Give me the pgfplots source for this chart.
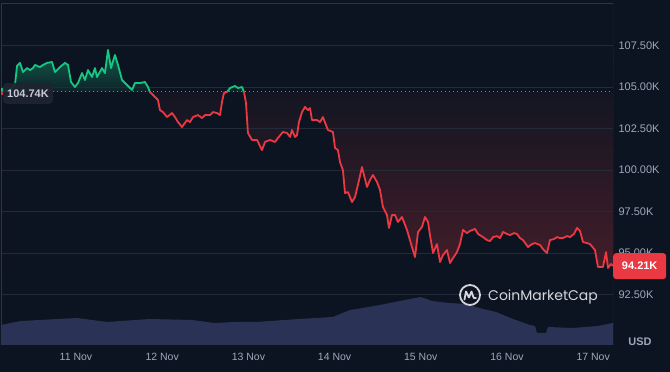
\documentclass[border=0pt]{standalone}
\usepackage{pgfplots}
\pgfplotsset{compat=1.18}
\usepackage{pgfplotstable}
\usetikzlibrary{backgrounds}
\usepackage{fontspec}
\setmainfont{Liberation Sans}
\newfontfamily\wmfont{Poppins}
\definecolor{bg}{HTML}{0D1421}
\definecolor{cmcred}{HTML}{EA3943}
\definecolor{cmcgreen}{HTML}{16C784}
\definecolor{gridc}{HTML}{252A38}
\definecolor{framec}{HTML}{2E3445}
\definecolor{tickc}{HTML}{A1A7BB}
\definecolor{volc}{HTML}{2A3355}
\definecolor{wmc}{HTML}{D3D6DD}

\pgfplotstableread{
day price
-0.870 104.76
-0.766 104.82
-0.708 105.12
-0.684 106.27
-0.650 106.45
-0.615 105.90
-0.568 106.14
-0.534 106.02
-0.499 106.14
-0.476 106.33
-0.418 106.20
-0.383 106.33
-0.336 106.45
-0.278 106.51
-0.244 105.90
-0.186 106.20
-0.128 106.45
-0.093 106.33
-0.058 105.30
-0.012 105.00
0.023 105.24
0.070 105.84
0.104 105.42
0.139 106.02
0.186 105.60
0.220 106.14
0.244 105.60
0.302 106.14
0.336 105.84
0.371 107.23
0.406 106.14
0.452 106.93
0.487 106.33
0.534 105.42
0.592 105.12
0.650 104.82
0.684 105.24
0.742 105.24
0.800 105.30
0.835 105.00
0.858 104.70
0.893 104.52
0.916 104.40
0.951 104.22
0.974 103.61
1.009 103.49
1.056 103.19
1.114 103.43
1.148 103.19
1.183 102.89
1.230 102.59
1.288 103.01
1.323 102.89
1.357 103.19
1.415 103.31
1.462 103.13
1.497 103.31
1.555 103.31
1.589 103.49
1.636 103.43
1.671 103.31
1.694 104.10
1.717 104.64
1.752 104.70
1.787 104.94
1.845 105.06
1.879 104.94
1.926 105.00
1.949 104.70
1.972 104.04
1.995 102.23
2.042 101.81
2.100 101.81
2.158 101.20
2.193 101.69
2.251 101.81
2.309 101.69
2.343 101.93
2.401 102.29
2.448 102.23
2.483 101.99
2.506 102.41
2.541 101.99
2.564 102.11
2.587 102.89
2.622 103.49
2.657 103.80
2.691 103.61
2.715 103.73
2.738 103.01
2.796 103.01
2.831 102.89
2.865 103.19
2.900 102.71
2.923 102.41
2.981 102.29
3.005 101.33
3.039 101.20
3.063 100.48
3.097 99.99
3.121 98.61
3.155 98.67
3.202 98.07
3.237 98.37
3.271 99.10
3.318 100.18
3.341 99.70
3.376 98.98
3.411 99.40
3.445 99.70
3.492 99.28
3.527 98.80
3.561 97.77
3.608 97.29
3.631 96.51
3.666 97.29
3.701 97.29
3.735 96.87
3.782 97.17
3.840 96.39
3.898 95.36
3.933 94.76
3.968 96.27
4.014 96.57
4.049 97.17
4.084 96.87
4.107 96.08
4.142 95.00
4.188 95.54
4.223 94.46
4.258 94.88
4.304 95.18
4.339 94.40
4.374 94.70
4.420 95.06
4.455 95.54
4.490 96.39
4.536 96.20
4.571 96.33
4.629 96.45
4.664 96.15
4.722 95.96
4.768 95.78
4.803 95.72
4.838 95.96
4.884 96.02
4.919 95.90
4.954 96.27
5.000 96.15
5.035 96.08
5.081 96.20
5.116 96.15
5.151 95.90
5.186 95.78
5.244 95.36
5.290 95.54
5.325 95.60
5.383 95.48
5.418 95.24
5.464 95.00
5.499 95.78
5.545 95.84
5.580 95.96
5.615 95.90
5.650 95.90
5.696 96.02
5.731 95.96
5.777 96.15
5.812 96.51
5.847 96.33
5.882 95.66
5.928 95.60
5.963 95.54
6.021 95.18
6.056 94.16
6.114 94.16
6.149 95.06
6.172 94.10
6.206 94.34
6.230 94.22
}\pricetable

\pgfplotstableread{
day vol
-0.870 50
-0.638 60
0.012 67.5
0.360 57.5
0.858 65
1.346 62.5
1.601 55
1.845 57.5
2.088 57.5
2.587 65
2.981 70
3.179 87.5
3.329 92.5
3.585 102.5
3.875 115
4.002 120
4.130 110
4.327 105
4.524 102.5
4.722 90
4.872 82.5
5.070 65
5.267 50
5.325 47.5
5.348 30
5.452 30
5.476 45
5.766 42.5
6.056 47.5
6.230 55
}\voltable

\begin{document}
\begin{tikzpicture}[x=1pt,y=1pt]
\begin{axis}[scale only axis,
  width=612pt, height=342pt, xmin=-0.870, xmax=6.230, ymin=89.46, ymax=110.06,
  axis line style={draw=none}, major tick length=0pt, tick style={draw=none},
  ytick={92.5,95,97.5,100,102.5,105,107.5},
  yticklabels={92.50K,95.00K,97.50K,100.00K,102.50K,105.00K,107.50K},
  yticklabel pos=right,
  yticklabel style={anchor=west, xshift=2pt, font=\fontsize{11}{13}\selectfont, text=tickc},
  xtick={0,1,2,3,4,5,6},
  xticklabels={11 Nov,12 Nov,13 Nov,14 Nov,15 Nov,16 Nov,17 Nov},
  xticklabel style={yshift=-5pt, font=\fontsize{10.5}{12}\selectfont, text=tickc}]
% red gradient band below the baseline
\fill[top color=cmcred!3!bg, bottom color=cmcred!24!bg]
  (axis cs:-0.870,104.74) rectangle (axis cs:6.230,94.10);
% mask everything below the price line
\addplot[fill=bg, draw=none, forget plot] table[x=day,y=price] {\pricetable} \closedcycle;
% green gradient band above the baseline
\fill[top color=cmcgreen!42!bg, bottom color=cmcgreen!8!bg]
  (axis cs:-0.870,107.23) rectangle (axis cs:6.230,104.74);
% mask above the price line (above baseline only)
\begin{scope}
\clip (rel axis cs:0,1) rectangle (axis cs:6.230,104.74);
\addplot[fill=bg, draw=none, forget plot] table[x=day,y=price] {\pricetable}
  -- (rel axis cs:1,1) -- (rel axis cs:0,1) -- cycle;
\end{scope}
\pgfplotsinvokeforeach{92.5,95,97.5,100,102.5,105,107.5}{
  \draw[gridc, line width=0.8pt] (axis cs:-0.870,#1) -- (axis cs:6.230,#1);
}
% volume (scaled onto the lower band of the chart)
\addplot[fill=volc, draw=none, forget plot] table[x=day, y expr=89.46+\thisrow{vol}/41.5] {\voltable}
  -- (rel axis cs:1,0) -- (rel axis cs:0,0) -- cycle;
\begin{scope}
\clip (rel axis cs:0,1) rectangle (axis cs:6.230,104.74);
\addplot[cmcgreen, line width=1.8pt, line join=round] table[x=day,y=price] {\pricetable};
\end{scope}
\begin{scope}
\clip (rel axis cs:0,0) rectangle (axis cs:6.230,104.74);
\addplot[cmcred, line width=1.8pt, line join=round] table[x=day,y=price] {\pricetable};
\end{scope}
\draw[tickc!80!bg, line width=1pt, dash pattern=on 1pt off 3pt] (axis cs:-0.870,104.74) -- (axis cs:6.230,104.74);
\draw[framec, line width=0.8pt] (rel axis cs:0,0) -- (rel axis cs:0,1) -- (rel axis cs:1,1) -- (rel axis cs:1,0);
\coordinate (lastp) at (axis cs:6.230,94.21);
\coordinate (basep) at (axis cs:-0.870,104.74);
\coordinate (SW) at (rel axis cs:0,0);
\end{axis}
\begin{scope}[on background layer]
\fill[bg] ([xshift=-1pt,yshift=-27pt]SW) rectangle ([xshift=669pt,yshift=345pt]SW);
\end{scope}
% left marker and badges
\fill[cmcgreen] (basep) rectangle ++(2,3);
\fill[cmcred] (basep) rectangle ++(2,-4);
\node[fill=gridc!85!white!30!bg, fill opacity=0.92, text opacity=1, rounded corners=4pt,
  minimum width=50pt, minimum height=21pt, inner sep=0pt, text=tickc!60!white,
  font=\bfseries\fontsize{11}{13}\selectfont] at ([xshift=27pt,yshift=-2pt]basep) {104.74K};
\node[fill=cmcred, rounded corners=3pt, minimum width=53pt, minimum height=26pt, inner sep=0pt,
  text=white, font=\bfseries\fontsize{11}{13}\selectfont, anchor=west] at (lastp) {94.21K};
\begin{scope}[shift={(SW)}]
\node[text=tickc, font=\bfseries\fontsize{11}{13}\selectfont] at (639,3) {USD};
\begin{scope}[shift={(469,50)}, wmc]
\draw[line width=1.8pt] (0,0) circle (10);
\draw[line width=1.8pt, line join=round, line cap=round] (-5.5,-4.5) -- (-4,3.5) -- (-1,-2.5) -- (1.5,3.5) -- (3,-1) .. controls (3.8,-3.5) .. (6,-3);
\end{scope}
\node[anchor=west, text=wmc, font=\wmfont\fontsize{14}{16}\selectfont, inner sep=0pt] at (487,48.5) {CoinMarketCap};
\end{scope}
\end{tikzpicture}
\end{document}
